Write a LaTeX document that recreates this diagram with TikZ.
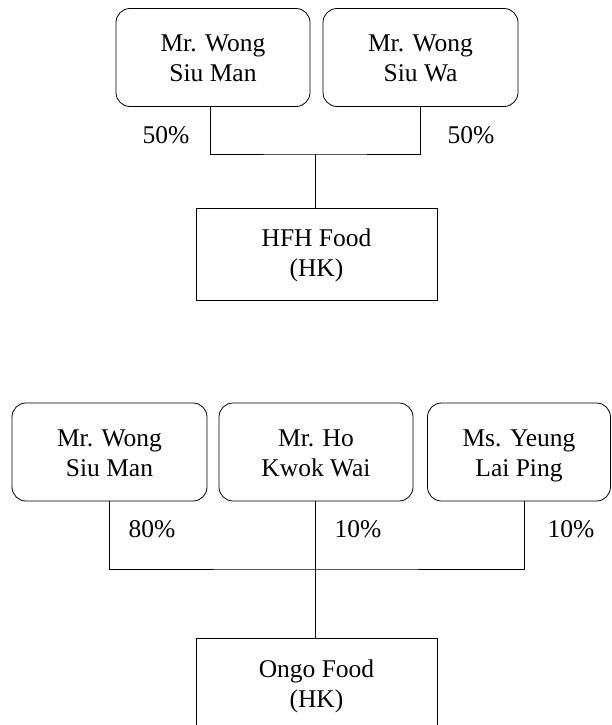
\documentclass[tikz,border=0pt]{standalone}
\usepackage{fontspec}
\setmainfont{Liberation Serif}
% two-line labels with fixed first-line height and last-line depth
\newcommand{\twoline}[2]{\rule{0pt}{24pt}#1\\#2\rule[-6pt]{0pt}{6pt}}
\newcommand{\twolinec}[2]{\rule{0pt}{22pt}#1\\#2\rule[-8pt]{0pt}{8pt}}
\begin{document}
\begin{tikzpicture}[x=1pt,y=-1pt,
  owner/.style={draw, rounded corners=14pt, line width=0.8pt, align=center,
    inner sep=0pt, minimum height=98pt, font=\fontsize{25.5}{30}\selectfont},
  company/.style={draw, line width=0.8pt, align=center, inner sep=0pt,
    font=\fontsize{25.5}{30}\selectfont},
  share/.style={font=\fontsize{25.5}{30}\selectfont, inner sep=0pt},
  link/.style={line width=0.8pt}]
\useasboundingbox (0,0) rectangle (611,725);
\clip (0,0) rectangle (611,725);

% --- HFH Food (HK) ---
\node[owner, minimum width=194pt] (w1) at (213,57.5) {\twoline{Mr. Wong}{Siu Man}};
\node[owner, minimum width=195pt] (w2) at (420.5,57.5) {\twoline{Mr. Wong}{Siu Wa}};
\node[company, minimum width=241pt, minimum height=92pt] (hfh) at (316.5,254) {\twolinec{HFH Food}{(HK)}};
\coordinate (j1) at (315,154);
\draw[link] ([xshift=-3pt]w1.south) |- (j1) -| (w2.south);
\draw[link] (j1) -- (j1 |- hfh.north);
\node[share] (p1) at (166,135) {50\%};
\node[share] (p2) at (471,135) {50\%};

% --- Ongo Food (HK) ---
\node[owner, minimum width=195pt] (o1) at (109.5,452) {\twoline{Mr. Wong}{Siu Man}};
\node[owner, minimum width=194pt] (o2) at (316,452) {\twoline{Mr. Ho}{Kwok Wai}};
\node[owner, minimum width=183pt] (o3) at (519,452) {\twoline{Ms. Yeung}{Lai Ping}};
\node[company, minimum width=241pt, minimum height=94pt] (ongo) at (316.5,685) {\twolinec{Ongo Food}{(HK)}};
\coordinate (j2) at (315,569);
\draw[link] (o1.south) |- (j2) -| ([xshift=5pt]o3.south);
\draw[link] (o2.south -| j2) -- (j2 |- ongo.north);
\node[share] (q1) at (152,529) {80\%};
\node[share] (q2) at (358,529) {10\%};
\node[share] (q3) at (571,529) {10\%};
\end{tikzpicture}
\end{document}
